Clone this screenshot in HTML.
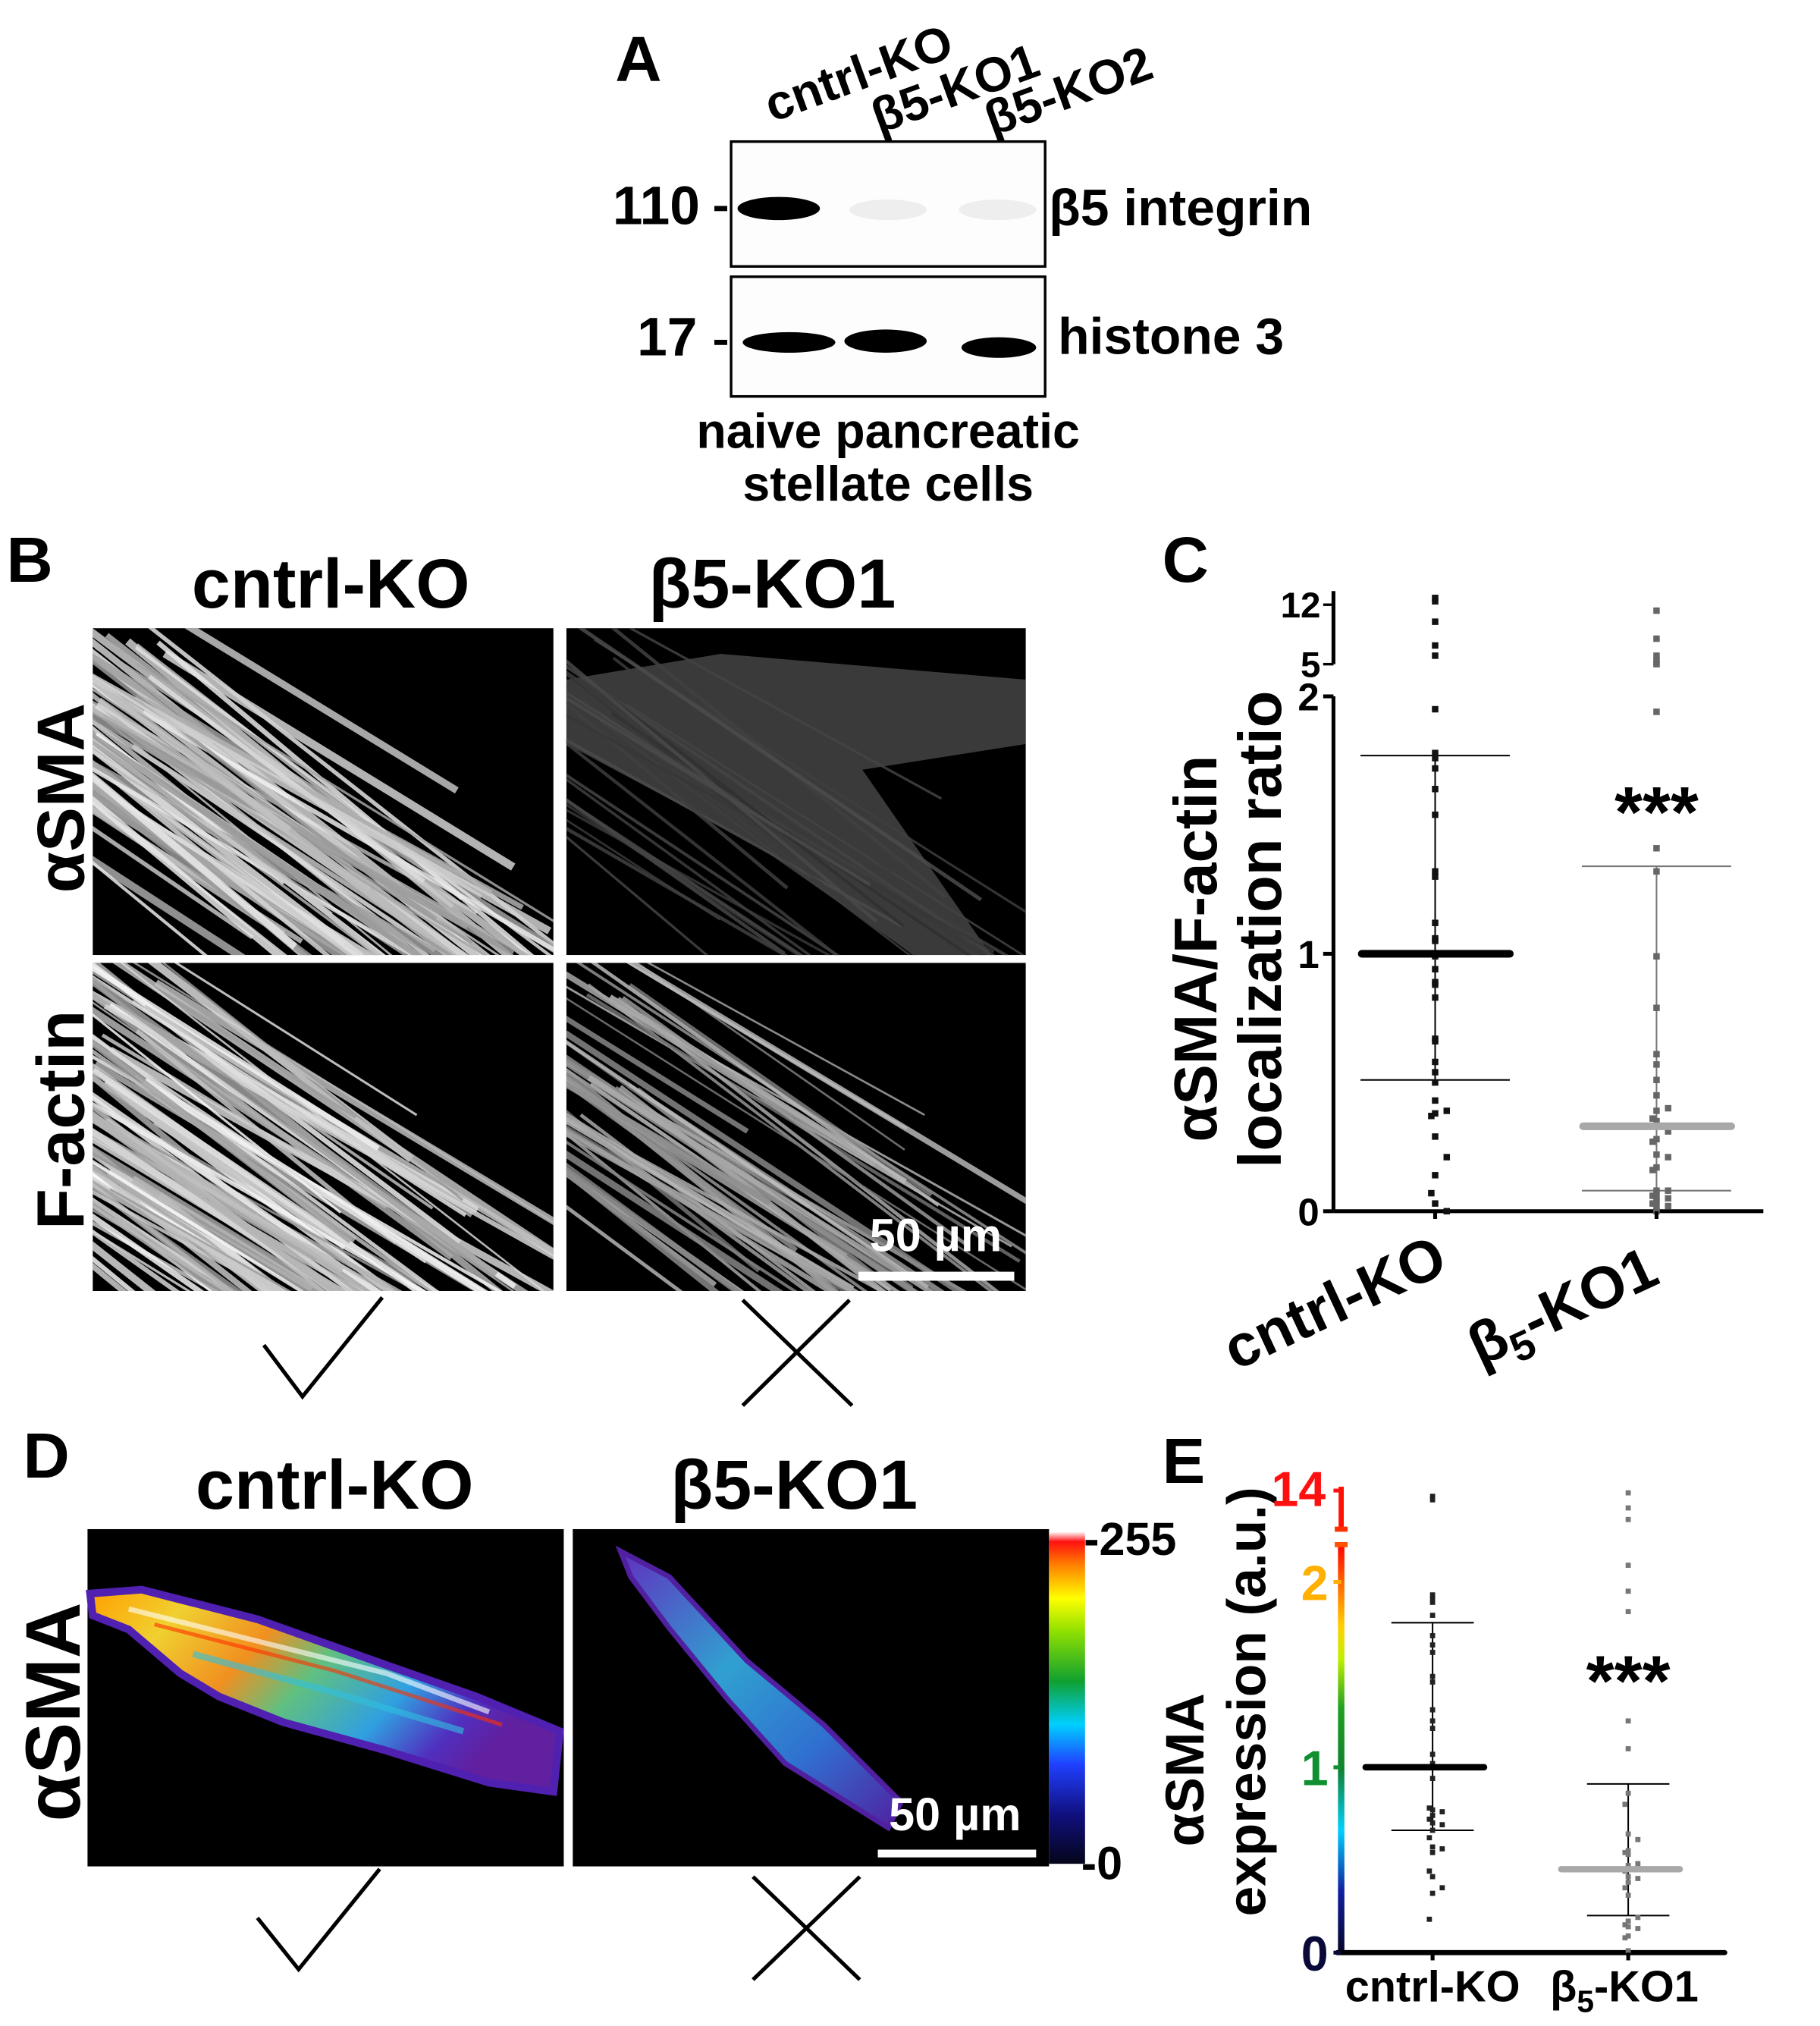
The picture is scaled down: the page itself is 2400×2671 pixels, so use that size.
<!DOCTYPE html>
<html><head><meta charset="utf-8"><style>
html,body{margin:0;padding:0;background:#fff;}
svg{display:block;}
text{font-family:"Liberation Sans Narrow","Liberation Sans",sans-serif;font-weight:bold;fill:#000;}
</style></head><body>
<svg id="fig" width="2400" height="2671" viewBox="0 0 1414 1574" preserveAspectRatio="none" xmlns="http://www.w3.org/2000/svg">
<defs>
<clipPath id="cb1"><rect x="72" y="488" width="358" height="254"/></clipPath>
<clipPath id="cb2"><rect x="440" y="488" width="357" height="254"/></clipPath>
<clipPath id="cb3"><rect x="72" y="748" width="358" height="255"/></clipPath>
<clipPath id="cb4"><rect x="440" y="748" width="357" height="255"/></clipPath>
<linearGradient id="cbar" x1="0" y1="1" x2="0" y2="0">
<stop offset="0" stop-color="#05051a"/><stop offset="0.15" stop-color="#101080"/><stop offset="0.3" stop-color="#2040ff"/><stop offset="0.42" stop-color="#00d0ff"/><stop offset="0.55" stop-color="#10a030"/><stop offset="0.7" stop-color="#90e000"/><stop offset="0.8" stop-color="#ffff00"/><stop offset="0.9" stop-color="#ff8000"/><stop offset="0.97" stop-color="#ff1010"/><stop offset="1" stop-color="#ffffff"/>
</linearGradient>
<linearGradient id="eaxis" x1="0" y1="1" x2="0" y2="0">
<stop offset="0" stop-color="#05052a"/><stop offset="0.15" stop-color="#1020a0"/><stop offset="0.3" stop-color="#00d0ff"/><stop offset="0.45" stop-color="#108030"/><stop offset="0.6" stop-color="#20a020"/><stop offset="0.72" stop-color="#c0f000"/><stop offset="0.8" stop-color="#ffd000"/><stop offset="0.88" stop-color="#ff8000"/><stop offset="1" stop-color="#ff0000"/>
</linearGradient>
<linearGradient id="cellg" x1="0" y1="0" x2="1" y2="0.4">
<stop offset="0" stop-color="#ffa000"/><stop offset="0.2" stop-color="#f0d030"/><stop offset="0.4" stop-color="#f09020"/><stop offset="0.55" stop-color="#60c080"/><stop offset="0.75" stop-color="#30a0e0"/><stop offset="0.9" stop-color="#5030c0"/><stop offset="1" stop-color="#6020a0"/>
</linearGradient>
<linearGradient id="cellg2" x1="0" y1="0" x2="1" y2="1">
<stop offset="0" stop-color="#6030c0"/><stop offset="0.4" stop-color="#30a0d0"/><stop offset="0.7" stop-color="#3070d0"/><stop offset="1" stop-color="#5020a0"/>
</linearGradient>
</defs>

<!-- Panel A -->
<text x="478" y="63" font-size="50">A</text>
<text transform="translate(600,95) rotate(-20)" font-size="38">cntrl-KO</text>
<text transform="translate(683,104) rotate(-20)" font-size="38">β5-KO1</text>
<text transform="translate(771,106) rotate(-20)" font-size="38">β5-KO2</text>
<rect x="568" y="110" width="244" height="97" fill="#fdfdfd" stroke="#000" stroke-width="2"/>
<rect x="568" y="215" width="244" height="93" fill="#fdfdfd" stroke="#000" stroke-width="2"/>
<ellipse cx="605" cy="162" rx="32" ry="9" fill="#000"/>
<ellipse cx="690" cy="163" rx="30" ry="8" fill="#eee"/>
<ellipse cx="775" cy="163" rx="30" ry="8" fill="#eee"/>
<ellipse cx="613" cy="266" rx="36" ry="8" fill="#000"/>
<ellipse cx="688" cy="265" rx="32" ry="9" fill="#000"/>
<ellipse cx="776" cy="270" rx="29" ry="8" fill="#000"/>
<text x="476" y="174" font-size="42">110</text>
<rect x="555" y="160" width="10" height="4" fill="#000"/>
<text x="495" y="276" font-size="42">17</text>
<rect x="555" y="264" width="10" height="4" fill="#000"/>
<text x="815" y="175" font-size="40">β5 integrin</text>
<text x="822" y="275" font-size="40">histone 3</text>
<text x="690" y="348" font-size="38" text-anchor="middle">naive pancreatic</text>
<text x="690" y="389" font-size="38" text-anchor="middle">stellate cells</text>

<!-- Panel B -->
<text x="5" y="452" font-size="50">B</text>
<text x="257" y="472" font-size="54" text-anchor="middle">cntrl-KO</text>
<text x="600" y="472" font-size="54" text-anchor="middle">β5-KO1</text>
<text transform="translate(65,620) rotate(-90)" font-size="52" text-anchor="middle">αSMA</text>
<text transform="translate(65,870) rotate(-90)" font-size="52" text-anchor="middle">F-actin</text>
<g id="imgs"></g>
<rect x="667" y="988" width="121" height="7" fill="#fff"/>
<text x="727" y="972" font-size="36" style="fill:#fff" text-anchor="middle">50 µm</text>
<polyline points="205,1045 235,1085 297,1008" fill="none" stroke="#000" stroke-width="3"/>
<g stroke="#000" stroke-width="3"><line x1="577" y1="1010" x2="662" y2="1092"/><line x1="660" y1="1010" x2="577" y2="1092"/></g>

<!-- Panel D -->
<text x="18" y="1148" font-size="50">D</text>
<text x="260" y="1172" font-size="54" text-anchor="middle">cntrl-KO</text>
<text x="617" y="1172" font-size="54" text-anchor="middle">β5-KO1</text>
<text transform="translate(62,1330) rotate(-90)" font-size="60" text-anchor="middle">αSMA</text>
<rect x="68" y="1188" width="370" height="262" fill="#000"/>
<rect x="445" y="1188" width="370" height="262" fill="#000"/>
<path d="M70,1238 L110,1235 L200,1258 L290,1290 L370,1318 L435,1345 L430,1392 L380,1385 L300,1360 L220,1338 L170,1318 L140,1300 L100,1266 L72,1255 Z" fill="url(#cellg)" stroke="#5020b0" stroke-width="6"/>
<path d="M100,1250 L200,1275 L300,1300 L380,1330" stroke="#ffffff" stroke-width="4" fill="none" opacity="0.6"/>
<path d="M150,1285 L260,1315 L360,1345" stroke="#30c0e0" stroke-width="5" fill="none" opacity="0.6"/>
<path d="M120,1262 L260,1298 L390,1340" stroke="#ff3000" stroke-width="3" fill="none" opacity="0.6"/>
<path d="M482,1205 L520,1225 L580,1290 L640,1340 L700,1400 L690,1420 L650,1395 L610,1370 L565,1320 L520,1265 L490,1225 Z" fill="url(#cellg2)" stroke="#5020a0" stroke-width="4"/>
<rect x="815" y="1190" width="28" height="258" fill="url(#cbar)"/>
<text x="842" y="1208" font-size="36">-255</text>
<text x="840" y="1460" font-size="36">-0</text>
<rect x="682" y="1437" width="123" height="6" fill="#fff"/>
<text x="742" y="1422" font-size="36" style="fill:#fff" text-anchor="middle">50 µm</text>
<polyline points="200,1490 232,1530 295,1452" fill="none" stroke="#000" stroke-width="3"/>
<g stroke="#000" stroke-width="3"><line x1="585" y1="1458" x2="668" y2="1538"/><line x1="668" y1="1458" x2="585" y2="1538"/></g>

<!-- Panel C -->
<text x="903" y="452" font-size="50">C</text>
<text transform="translate(945,737) rotate(-90)" font-size="47" text-anchor="middle">αSMA/F-actin</text>
<text transform="translate(995,722) rotate(-90)" font-size="47" text-anchor="middle">localization ratio</text>
<g id="chartC"></g>
<text transform="translate(960,1065) rotate(-25)" font-size="46">cntrl-KO</text>
<text transform="translate(1150,1062) rotate(-25)" font-size="46">β<tspan font-size="32" dy="10">5</tspan><tspan dy="-10">-KO1</tspan></text>

<!-- Panel E -->
<text x="903" y="1152" font-size="50">E</text>
<text transform="translate(935,1375) rotate(-90)" font-size="42" text-anchor="middle">αSMA</text>
<text transform="translate(983,1322) rotate(-90)" font-size="42" text-anchor="middle">expression (a.u.)</text>
<g id="chartE"></g>
<text x="1113" y="1555" font-size="34" text-anchor="middle">cntrl-KO</text>
<text x="1262" y="1555" font-size="34" text-anchor="middle">β<tspan font-size="24" dy="8">5</tspan><tspan dy="-8">-KO1</tspan></text>
</svg>
<script>
// ---- Chart C data ----
const cGroups = ["cntrl-KO", "β5-KO1"];
const cMeans = [1.0, 0.33];
const cSdHigh = [1.77, 1.34];
const cSdLow = [0.51, 0.08];
const cCntrlPoints = [12.8, 12.4, 10, 7.2, 6, 1.95, 1.78, 1.76, 1.72, 1.64, 1.54, 1.32, 1.30, 1.12, 1.06, 1.05, 0.99, 0.94, 0.89, 0.88, 0.83, 0.67, 0.66, 0.58, 0.54, 0.50, 0.43, 0.39, 0.38, 0.37, 0.29, 0.21, 0.14, 0.07, 0.03, 0.0];
const cB5Points = [11.3, 8, 6, 5.5, 5.1, 5.0, 1.94, 1.41, 1.32, 0.99, 0.79, 0.61, 0.57, 0.51, 0.45, 0.40, 0.39, 0.36, 0.35, 0.31, 0.28, 0.27, 0.22, 0.21, 0.17, 0.16, 0.08, 0.08, 0.07, 0.06, 0.05, 0.05, 0.04, 0.03, 0.02, 0.02, 0.0];
const cTicks = ["0", "1", "2"];
const cUpperTicks = ["5", "12"];
// ---- Chart E data ----
const eGroups = ["cntrl-KO", "β5-KO1"];
const eMeans = [1.0, 0.45];
const eSdHigh = [1.78, 0.91];
const eSdLow = [0.66, 0.20];
const eCntrlPoints = [13.5, 13.2, 1.93, 1.91, 1.89, 1.82, 1.71, 1.66, 1.62, 1.49, 1.46, 1.31, 1.25, 1.21, 1.07, 1.02, 0.94, 0.78, 0.77, 0.76, 0.74, 0.72, 0.70, 0.69, 0.66, 0.62, 0.57, 0.56, 0.54, 0.44, 0.41, 0.35, 0.32, 0.18];
const eB5Points = [13.8, 12.5, 11.5, 2.09, 1.95, 1.84, 1.25, 1.10, 0.86, 0.80, 0.64, 0.61, 0.55, 0.54, 0.53, 0.48, 0.47, 0.44, 0.41, 0.40, 0.38, 0.35, 0.31, 0.19, 0.17, 0.15, 0.14, 0.13, 0.09, 0.08, 0.01];
const eTicks = ["0", "1", "2"];
const eUpperTicks = ["14"];

const NS = "http://www.w3.org/2000/svg";
function mk(tag, attrs, parent) {
  const e = document.createElementNS(NS, tag);
  for (const k in attrs) e.setAttribute(k, attrs[k]);
  parent.appendChild(e);
  return e;
}

// ---- microscopy textures (decorative) ----
(function () {
  let s = 12345;
  function rnd() { s = (s * 1103515245 + 12345) % 2147483648; return s / 2147483648; }
  const imgs = document.getElementById('imgs');
  const panels = [
    { x: 72, y: 488, w: 358, h: 254, c: 'cb1', n: 70, b: 1.0, spread: 0.55, name: 'image-cntrl-asma' },
    { x: 440, y: 488, w: 357, h: 254, c: 'cb2', n: 30, b: 0.3, spread: 0.5, name: 'image-b5-asma' },
    { x: 72, y: 748, w: 358, h: 255, c: 'cb3', n: 100, b: 1.0, spread: 0.85, name: 'image-cntrl-factin' },
    { x: 440, y: 748, w: 357, h: 255, c: 'cb4', n: 55, b: 0.75, spread: 0.6, name: 'image-b5-factin' }
  ];
  panels.forEach(p => {
    const g = mk('g', { 'clip-path': 'url(#' + p.c + ')' }, imgs);
    
    
    mk('rect', { x: p.x, y: p.y, width: p.w, height: p.h, fill: '#000' }, g);
    if (p.b < 0.5) {
      mk('path', { d: 'M' + (p.x) + ',' + (p.y + 40) + ' L' + (p.x + 120) + ',' + (p.y + 20) + ' L' + (p.x + 357) + ',' + (p.y + 40) + ' L' + (p.x + 357) + ',' + (p.y + 90) + ' L' + (p.x + 230) + ',' + (p.y + 110) + ' L' + (p.x + 330) + ',' + (p.y + 254) + ' L' + (p.x + 270) + ',' + (p.y + 254) + ' L' + (p.x + 150) + ',' + (p.y + 170) + ' L' + (p.x) + ',' + (p.y + 90) + ' Z', fill: '#3a3a3a' }, g);
    }
    for (let i = 0; i < p.n; i++) {
      const t = rnd();
      const x0 = p.x - 120 + rnd() * p.w * 0.5;
      const y0 = p.y + (t * p.h * p.spread) - 30;
      const len = 250 + rnd() * 300;
      const ang = 0.5 + rnd() * 0.2;
      const x1 = x0 + len * Math.cos(ang), y1 = y0 + len * Math.sin(ang);
      const v = Math.floor((150 + rnd() * 105) * p.b);
      mk('line', { x1: x0, y1: y0, x2: x1, y2: y1, stroke: 'rgb(' + v + ',' + v + ',' + v + ')', 'stroke-width': 1.5 + rnd() * 5 * p.b, opacity: 0.85 }, g);
    }
  });
})();

// ---- Chart C ----
(function () {
  const g = document.getElementById('chartC');
  const ax = 1036, base = 941, unit = 200;
  const xPos = [1115, 1287];
  function yLow(v) { return base - v * unit; }
  function yUp(v) { return 516 - (v - 5) * 6.6; }
  function yC(v) { return v <= 2 ? yLow(v) : yUp(v); }
  const axisL = mk('line', { x1: ax, y1: base, x2: ax, y2: yLow(2), stroke: '#000', 'stroke-width': 3 }, g);
  
  
  const axisU = mk('line', { x1: ax, y1: yUp(5), x2: ax, y2: yUp(13.6), stroke: '#000', 'stroke-width': 3 }, g);
  
  
  const xa = mk('line', { x1: ax, y1: base, x2: 1370, y2: base, stroke: '#000', 'stroke-width': 3 }, g);
  
  
  cTicks.forEach(t => {
    const y = yLow(+t);
    mk('line', { x1: ax - 8, y1: y, x2: ax, y2: y, stroke: '#000', 'stroke-width': 3 }, g);
    const tx = mk('text', { x: ax - 11, y: y + 11, 'font-size': 30, 'text-anchor': 'end' }, g);
    tx.textContent = t;
    
    
  });
  cUpperTicks.forEach(t => {
    const y = yUp(+t);
    mk('line', { x1: ax - 8, y1: y, x2: ax, y2: y, stroke: '#000', 'stroke-width': 2 }, g);
    const tx = mk('text', { x: ax - 10, y: y + 10, 'font-size': 28, 'text-anchor': 'end' }, g);
    tx.textContent = t;
    
    
  });
  cGroups.forEach((gname, i) => {
    const x = xPos[i];
    const col = i === 0 ? '#000' : '#777';
    const err = mk('line', { x1: x, y1: yLow(cSdLow[i]), x2: x, y2: yLow(cSdHigh[i]), stroke: col, 'stroke-width': 1.2 }, g);
    
    
    [cSdLow[i], cSdHigh[i]].forEach(v => {
      mk('line', { x1: x - 58, y1: yLow(v), x2: x + 58, y2: yLow(v), stroke: col, 'stroke-width': 1.2 }, g);
    });
    const pts = i === 0 ? cCntrlPoints : cB5Points;
    pts.forEach((v, j) => {
      const jit = (v < 0.5 && j % 2) ? ((j % 4) - 1.5) * 6 : 0;
      const r = mk('rect', { x: x - 2.5 + jit, y: yC(v) - 2.5, width: 5, height: 5, fill: i === 0 ? '#111' : '#666' }, g);
      
      
    });
    const m = mk('line', { x1: x - 57, y1: yLow(cMeans[i]), x2: x + 58, y2: yLow(cMeans[i]), stroke: i === 0 ? '#000' : '#a8a8a8', 'stroke-width': 6, 'stroke-linecap': 'round' }, g);
    
    
    mk('line', { x1: x, y1: base, x2: x, y2: base + 6, stroke: '#000', 'stroke-width': 3 }, g);
  });
  const st = mk('text', { x: xPos[1], y: 650, 'font-size': 56, 'text-anchor': 'middle' }, g);
  st.textContent = '***';
  
  
})();

// ---- Chart E ----
(function () {
  const g = document.getElementById('chartE');
  const ax = 1042, base = 1517, unit = 144;
  const xPos = [1113, 1265];
  function yLow(v) { return base - v * unit; }
  function yUp(v) { return 1158 + (14 - v) * 9; }
  function yE(v) { return v <= 2.2 ? yLow(v) : yUp(v); }
  const axisL = mk('rect', { x: ax - 2.5, y: 1200, width: 5, height: base - 1200, fill: 'url(#eaxis)' }, g);
  
  
  const axisU = mk('line', { x1: ax, y1: 1155, x2: ax, y2: 1188, stroke: '#ff1000', 'stroke-width': 4 }, g);
  
  
  mk('line', { x1: ax - 5, y1: 1188, x2: ax + 5, y2: 1188, stroke: '#ff3000', 'stroke-width': 4 }, g);
  mk('line', { x1: ax - 5, y1: 1200, x2: ax + 5, y2: 1200, stroke: '#ff5000', 'stroke-width': 4 }, g);
  const xa = mk('line', { x1: ax - 3, y1: base, x2: 1340, y2: base, stroke: '#000', 'stroke-width': 4, 'stroke-linecap': 'round' }, g);
  
  
  const cols = { '0': '#0a0a3a', '1': '#109030', '2': '#ffb000', '14': '#ff1010' };
  eTicks.forEach(t => {
    const y = yLow(+t);
    mk('line', { x1: ax - 6, y1: y, x2: ax, y2: y, stroke: cols[t], 'stroke-width': 3 }, g);
    const tx = mk('text', { x: ax - 10, y: y + 14, 'font-size': 38, 'text-anchor': 'end', style: 'fill:' + cols[t] }, g);
    tx.textContent = t;
    
    
  });
  eUpperTicks.forEach(t => {
    const y = yUp(+t);
    mk('line', { x1: ax - 6, y1: y, x2: ax, y2: y, stroke: cols[t], 'stroke-width': 3 }, g);
    const tx = mk('text', { x: ax - 12, y: y + 12, 'font-size': 38, 'text-anchor': 'end', style: 'fill:' + cols[t] }, g);
    tx.textContent = t;
    
    
  });
  eGroups.forEach((gname, i) => {
    const x = xPos[i];
    const err = mk('line', { x1: x, y1: yLow(eSdLow[i]), x2: x, y2: yLow(eSdHigh[i]), stroke: '#000', 'stroke-width': 1.2 }, g);
    
    
    [eSdLow[i], eSdHigh[i]].forEach(v => {
      mk('line', { x1: x - 32, y1: yLow(v), x2: x + 32, y2: yLow(v), stroke: '#000', 'stroke-width': 1.2 }, g);
    });
    const pts = i === 0 ? eCntrlPoints : eB5Points;
    pts.forEach((v, j) => {
      const jit = (v < 0.9 && j % 2) ? ((j % 4) - 1.5) * 5 : 0;
      const r = mk('rect', { x: x - 2 + jit, y: yE(v) - 2, width: 4, height: 4, fill: i === 0 ? '#222' : '#777' }, g);
      
      
    });
    const m = mk('line', { x1: x - 52, y1: yLow(eMeans[i]), x2: x + 40, y2: yLow(eMeans[i]), stroke: i === 0 ? '#000' : '#a8a8a8', 'stroke-width': 5, 'stroke-linecap': 'round' }, g);
    
    
    mk('line', { x1: x, y1: base, x2: x, y2: base + 6, stroke: '#000', 'stroke-width': 3 }, g);
  });
  const st = mk('text', { x: xPos[1], y: 1325, 'font-size': 56, 'text-anchor': 'middle' }, g);
  st.textContent = '***';
  
  
})();
</script>
</body></html>
